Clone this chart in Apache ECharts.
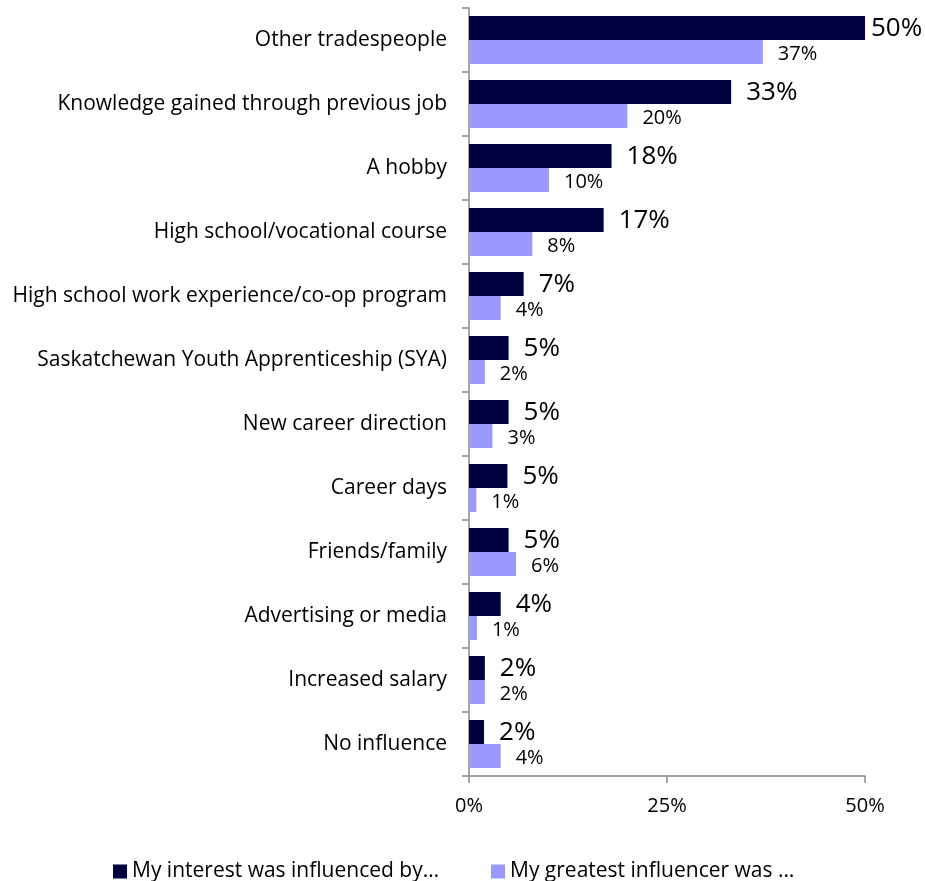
<!DOCTYPE html>
<html>
<head>
<meta charset="utf-8">
<script src="https://cdn.jsdelivr.net/npm/echarts@6/dist/echarts.min.js"></script>
<style>
  html, body { margin: 0; padding: 0; background: #fff; }
  #chart { width: 925px; height: 881px; }
</style>
</head>
<body>
<div id="chart"></div>
<script>
// categories, top to bottom
const categories = [
  'Other tradespeople',
  'Knowledge gained through previous job',
  'A hobby',
  'High school/vocational course',
  'High school work experience/co-op program',
  'Saskatchewan Youth Apprenticeship (SYA)',
  'New career direction',
  'Career days',
  'Friends/family',
  'Advertising or media',
  'Increased salary',
  'No influence'
]
const interestVals = [50, 33.1, 18, 17, 6.9, 5, 5, 4.85, 5, 4, 2, 1.9]
const influencerVals = [37.1, 20, 10.1, 8, 4, 2, 2.96, 0.93, 5.94, 1, 2, 4]
const seriesNames = ['My interest was influenced by…', 'My greatest influencer was …']
const xTicks = [0, 25, 50]

const font = '"Open Sans", "Noto Sans", sans-serif'
const myChart = echarts.init(document.getElementById('chart'))

const pct = (p) => Math.round(p.value) + '%'

const option = {
  animation: false,
  textStyle: { fontFamily: font, color: '#000' },
  grid: { left: 469, right: 60, top: 8, bottom: 105 },
  legend: {
    data: seriesNames,
    left: 108,
    top: 856,
    icon: 'rect',
    itemWidth: 14,
    itemHeight: 14,
    itemGap: 52,
    textStyle: { fontFamily: font, fontSize: 21, color: '#000' }
  },
  xAxis: {
    type: 'value',
    min: xTicks[0],
    max: xTicks[xTicks.length - 1],
    interval: 25,
    axisLine: { show: true, lineStyle: { color: '#888', width: 1.5 } },
    axisTick: { show: true, length: 7, lineStyle: { color: '#888', width: 1.5 } },
    splitLine: { show: false },
    axisLabel: { formatter: '{value}%', fontSize: 20, color: '#000', margin: 20, fontFamily: font }
  },
  yAxis: {
    type: 'category',
    inverse: true,
    data: categories,
    axisLine: { show: true, lineStyle: { color: '#888', width: 1.5 } },
    axisTick: { show: true, length: 7, lineStyle: { color: '#888', width: 1.5 } },
    axisLabel: { fontSize: 21, color: '#000', margin: 22, fontFamily: font }
  },
  series: [
    {
      name: seriesNames[0],
      type: 'bar',
      barWidth: 24,
      barGap: '0%',
      itemStyle: { color: '#000040' },
      label: {
        show: true,
        position: 'right',
        distance: 15,
        fontSize: 26,
        color: '#000',
        fontFamily: font,
        offset: [0, 1],
        formatter: pct
      },
      // first label sits closer to the bar (chart edge)
      data: interestVals.map((v, i) => (i === 0 ? { value: v, label: { distance: 6 } } : v))
    },
    {
      name: seriesNames[1],
      type: 'bar',
      barWidth: 24,
      barGap: '0%',
      itemStyle: { color: '#9999ff' },
      label: {
        show: true,
        position: 'right',
        distance: 15,
        fontSize: 20,
        color: '#000',
        fontFamily: font,
        offset: [0, 2],
        formatter: pct
      },
      data: influencerVals
    }
  ]
}
myChart.setOption(option)
</script>
</body>
</html>
